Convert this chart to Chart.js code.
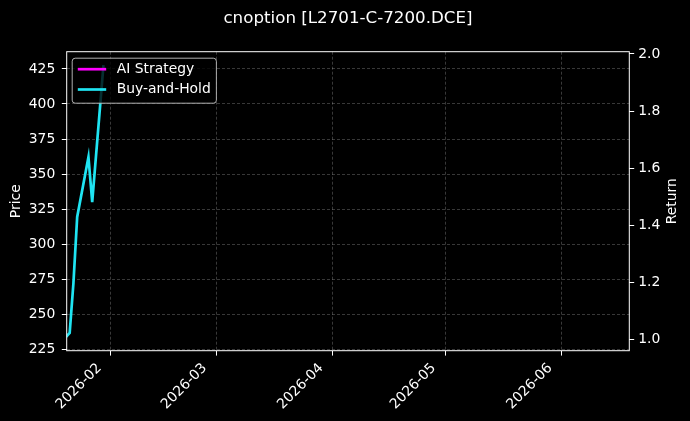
<!DOCTYPE html>
<html>
<head>
<meta charset="utf-8">
<script src="https://cdn.jsdelivr.net/npm/chart.js@4.4.1/dist/chart.umd.min.js"></script>
<style>
  html, body { margin: 0; padding: 0; background: #000; }
  canvas { display: block; }
</style>
</head>
<body>
<canvas id="c" width="690" height="421"></canvas>
<script>
// ---- data ----
const titleText = 'cnoption [L2701-C-7200.DCE]';
const dates = ['2026-01-20', '2026-01-21', '2026-01-22', '2026-01-23', '2026-01-26', '2026-01-27', '2026-01-30'];
const buyHold = [1.008, 1.022, 1.197, 1.429, 1.639, 1.481, 1.961];
const aiStrategy = [];
const monthTicks = ['2026-02-01', '2026-03-01', '2026-04-01', '2026-05-01', '2026-06-01'];
const priceTicks = [225, 250, 275, 300, 325, 350, 375, 400, 425];
const returnTicks = [1.0, 1.2, 1.4, 1.6, 1.8, 2.0];
const seriesLabels = ['AI Strategy', 'Buy-and-Hold'];

const FONT = '"DejaVu Sans", "Liberation Sans", sans-serif';
const FS = 13.9;
const toMs = s => Date.parse(s + 'T00:00:00Z');
const xMin = Date.UTC(2026, 0, 20, 5);
const xMax = Date.UTC(2026, 5, 19);
const pad2 = n => (n < 10 ? '0' : '') + n;
const fmtMonth = v => { const d = new Date(v); return d.getUTCFullYear() + '-' + pad2(d.getUTCMonth() + 1); };

const gridColor = 'rgba(255,255,255,0.28)';
const colors = ['#ff00ff', '#1fe4f2'];

const decor = {
  id: 'decor',
  beforeDraw(chart) {
    const ctx = chart.ctx;
    ctx.save();
    ctx.fillStyle = '#000';
    ctx.fillRect(0, 0, chart.width, chart.height);
    ctx.restore();
  },
  afterDatasetsDraw(chart) {
    const ctx = chart.ctx, a = chart.chartArea;
    ctx.save();
    ctx.strokeStyle = '#fff';
    ctx.lineWidth = 1;
    ctx.strokeRect(a.left, a.top, a.right - a.left, a.bottom - a.top);
    ctx.restore();
  },
  afterDraw(chart) {
    const ctx = chart.ctx, a = chart.chartArea;
    ctx.save();
    ctx.fillStyle = '#fff';
    ctx.textAlign = 'center';
    ctx.textBaseline = 'middle';
    ctx.font = '16.7px ' + FONT;
    ctx.fillText(titleText, (a.left + a.right) / 2, 19);
    ctx.font = FS + 'px ' + FONT;
    const midY = (a.top + a.bottom) / 2;
    ctx.save(); ctx.translate(16, midY); ctx.rotate(-Math.PI / 2); ctx.fillText('Price', 0, 0); ctx.restore();
    ctx.save(); ctx.translate(672.5, midY); ctx.rotate(-Math.PI / 2); ctx.fillText('Return', 0, 0); ctx.restore();

    // legend
    const bx = a.left + 5.5, by = a.top + 6.5;
    const textX = bx + 44.5;
    let tw = 0;
    chart.data.datasets.forEach(d => { tw = Math.max(tw, ctx.measureText(d.label).width); });
    const bw = textX + tw + 5.6 - bx, bh = 45;
    ctx.beginPath();
    if (ctx.roundRect) ctx.roundRect(bx, by, bw, bh, 3); else ctx.rect(bx, by, bw, bh);
    ctx.fillStyle = 'rgba(0,0,0,0.8)';
    ctx.fill();
    ctx.strokeStyle = 'rgba(204,204,204,0.85)';
    ctx.lineWidth = 1;
    ctx.stroke();
    chart.data.datasets.forEach((d, i) => {
      const ry = by + 11 + i * 20.3;
      ctx.strokeStyle = d.borderColor;
      ctx.lineWidth = 2.7;
      ctx.beginPath(); ctx.moveTo(bx + 5.6, ry); ctx.lineTo(bx + 34, ry); ctx.stroke();
      ctx.fillStyle = '#fff';
      ctx.textAlign = 'left';
      ctx.textBaseline = 'middle';
      ctx.fillText(d.label, textX, ry);
    });
    ctx.restore();
  }
};

new Chart(document.getElementById('c'), {
  type: 'line',
  data: {
    datasets: [
      { label: seriesLabels[0], data: aiStrategy.map((v, i) => ({ x: toMs(dates[i]), y: v })), borderColor: colors[0], backgroundColor: colors[0], borderWidth: 2.7, pointRadius: 0, yAxisID: 'y1', tension: 0 },
      { label: seriesLabels[1], data: buyHold.map((v, i) => ({ x: toMs(dates[i]), y: v })), borderColor: colors[1], backgroundColor: colors[1], borderWidth: 2.7, pointRadius: 0, yAxisID: 'y1', tension: 0 }
    ]
  },
  options: {
    responsive: false,
    animation: false,
    devicePixelRatio: 1,
    layout: { padding: { top: 51.7, left: 0, right: 0, bottom: 0 } },
    plugins: { legend: { display: false }, title: { display: false }, tooltip: { enabled: false } },
    scales: {
      x: {
        type: 'linear', position: 'bottom', min: xMin, max: xMax,
        afterBuildTicks: s => { s.ticks = monthTicks.map(m => ({ value: toMs(m) })); },
        afterFit: s => { s.height = 70.3; },
        ticks: { color: '#fff', font: { family: FONT, size: FS }, minRotation: 45, maxRotation: 45, autoSkip: false, padding: 4.5, labelOffset: -11.5, callback: v => fmtMonth(v) },
        grid: { color: gridColor, lineWidth: 0.8, tickColor: '#fff', tickLength: 4.9, tickWidth: 1 },
        border: { display: false, dash: [3, 2] }
      },
      y: {
        position: 'left', min: 224.0, max: 437.3,
        afterBuildTicks: s => { s.ticks = priceTicks.map(v => ({ value: v })); },
        afterFit: s => { s.width = 66.7; },
        ticks: { color: '#fff', font: { family: FONT, size: FS }, padding: 6.5, callback: v => String(v) },
        grid: { color: gridColor, lineWidth: 0.8, tickColor: '#fff', tickLength: 4.9, tickWidth: 1 },
        border: { display: false, dash: [3, 2] }
      },
      y1: {
        position: 'right', min: 0.96, max: 2.008,
        afterBuildTicks: s => { s.ticks = returnTicks.map(v => ({ value: v })); },
        afterFit: s => { s.width = 60.7; },
        ticks: { color: '#fff', font: { family: FONT, size: FS }, padding: 4, callback: v => Number(v).toFixed(1) },
        grid: { drawOnChartArea: false, tickColor: '#fff', tickLength: 4.9, tickWidth: 1 },
        border: { display: false }
      }
    }
  },
  plugins: [decor]
});
</script>
</body>
</html>
